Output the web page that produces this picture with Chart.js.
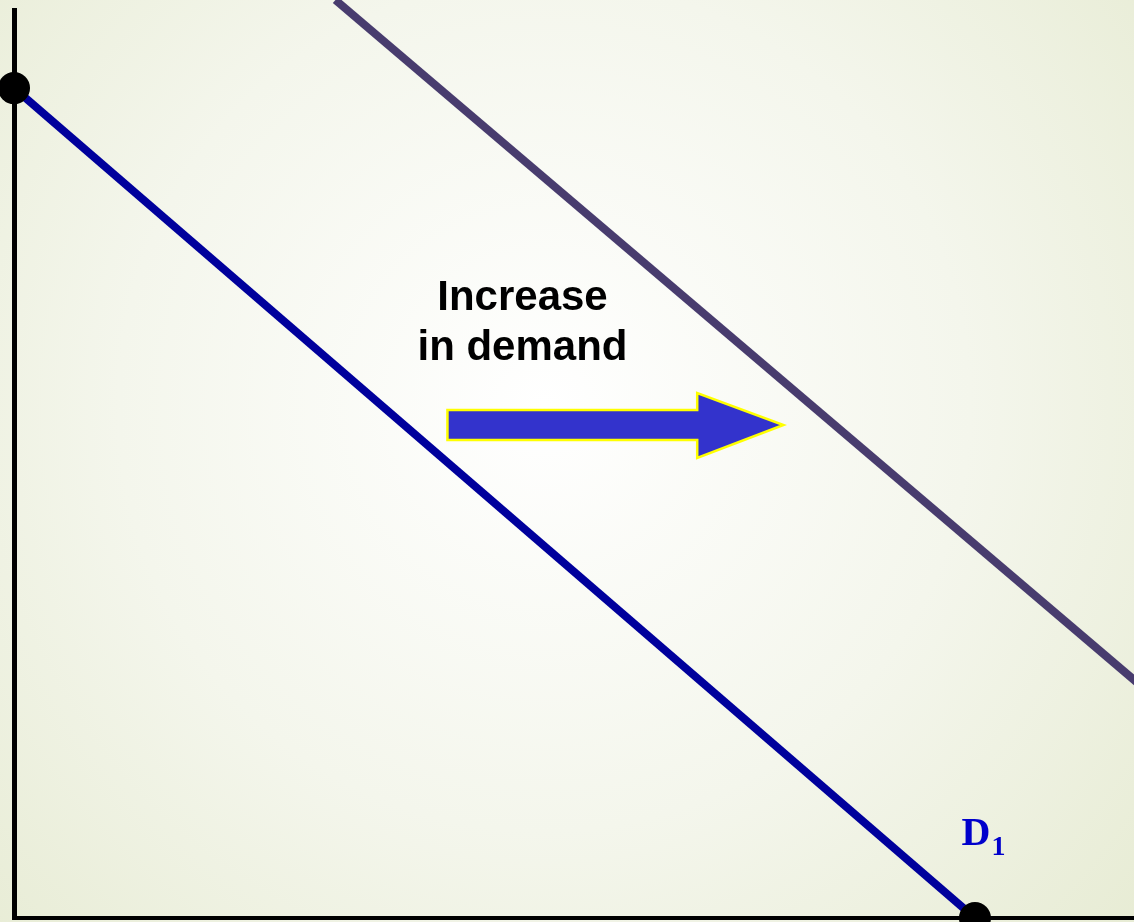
<!DOCTYPE html>
<html>
<head>
<meta charset="utf-8">
<script src="https://cdn.jsdelivr.net/npm/chart.js@4/dist/chart.umd.min.js"></script>
<style>
  html, body { margin: 0; padding: 0; background: #eef1e0; }
  #wrap { width: 1134px; height: 922px; position: relative; }
</style>
</head>
<body>
<div id="wrap"><canvas id="demandChart"></canvas></div>
<script>
// demand curves (quantity, price), both axes 0..100
const d1Quantity = [0, 85.8];
const d1Price = [91.4, 0];
const d2Quantity = [28.7, 100.5];
const d2Price = [101.1, 25.7];

// shift arrow: tail, shaft end, tip (quantity) at one price level
const arrowQuantity = [38.7, 61.0, 68.7];
const arrowPrice = 54.3;

const shiftText = ['Increase', 'in demand'];
const shiftTextAt = [45.4, 67.0];
const curveLabel = 'D';
const curveLabelSub = '1';
const curveLabelAt = [84.6, 8.0];

function toPoints(xs, ys) {
  return xs.map(function (x, i) { return { x: x, y: ys[i] }; });
}

const backdrop = {
  id: 'backdrop',
  beforeDraw: function (chart) {
    const c = chart.ctx;
    const w = chart.width, h = chart.height;
    c.save();
    const g = c.createRadialGradient(w * 0.48, h * 0.44, 0, w * 0.48, h * 0.44, w * 0.75);
    g.addColorStop(0, '#ffffff');
    g.addColorStop(0.5, '#f4f6ec');
    g.addColorStop(1, '#e5ead0');
    c.fillStyle = g;
    c.fillRect(0, 0, w, h);
    c.restore();
  }
};

const notes = {
  id: 'notes',
  afterDatasetsDraw: function (chart) {
    const c = chart.ctx;
    const xs = chart.scales.x, ys = chart.scales.y;
    c.save();

    // arrow
    const x0 = xs.getPixelForValue(arrowQuantity[0]);
    const x1 = xs.getPixelForValue(arrowQuantity[1]);
    const x2 = xs.getPixelForValue(arrowQuantity[2]);
    const yc = ys.getPixelForValue(arrowPrice);
    c.beginPath();
    c.moveTo(x0, yc - 15);
    c.lineTo(x1, yc - 15);
    c.lineTo(x1, yc - 32);
    c.lineTo(x2, yc);
    c.lineTo(x1, yc + 33);
    c.lineTo(x1, yc + 15);
    c.lineTo(x0, yc + 15);
    c.closePath();
    c.fillStyle = '#3333cc';
    c.fill();
    c.lineWidth = 2.5;
    c.lineJoin = 'miter';
    c.strokeStyle = '#ffff00';
    c.stroke();

    // shift text
    c.fillStyle = '#000000';
    c.font = 'bold 42px "Liberation Sans", Arial, sans-serif';
    c.textAlign = 'center';
    c.textBaseline = 'alphabetic';
    const tx = xs.getPixelForValue(shiftTextAt[0]);
    const ty = ys.getPixelForValue(shiftTextAt[1]);
    shiftText.forEach(function (t, i) { c.fillText(t, tx, ty + i * 50); });

    // curve label
    c.fillStyle = '#0000cc';
    c.textAlign = 'left';
    const lx = xs.getPixelForValue(curveLabelAt[0]);
    const ly = ys.getPixelForValue(curveLabelAt[1]);
    c.font = 'bold 40px "Liberation Serif", "Times New Roman", serif';
    c.fillText(curveLabel, lx, ly);
    const dw = c.measureText(curveLabel).width;
    c.font = 'bold 28px "Liberation Serif", "Times New Roman", serif';
    c.fillText(curveLabelSub, lx + dw + 1, ly + 10);

    c.restore();
  }
};

const ctx = document.getElementById('demandChart').getContext('2d');

const config = {
  type: 'scatter',
  data: {
    datasets: [
      {
        data: toPoints(d1Quantity, d1Price),
        showLine: true,
        borderColor: '#00009c',
        borderWidth: 8,
        pointRadius: 16,
        pointBackgroundColor: '#000000',
        pointBorderWidth: 0,
        clip: false,
        order: 1
      },
      {
        data: toPoints(d2Quantity, d2Price),
        showLine: true,
        borderColor: '#483c6e',
        borderWidth: 8,
        pointRadius: 0,
        clip: false,
        order: 2
      }
    ]
  },
  plugins: [backdrop, notes],
  options: {
    responsive: true,
    maintainAspectRatio: false,
    animation: false,
    layout: {
      autoPadding: false,
      padding: { top: 10, bottom: 4, left: 14, right: 0 }
    },
    plugins: {
      legend: { display: false },
      tooltip: { enabled: false }
    },
    scales: {
      x: {
        type: 'linear',
        min: 0,
        max: 100,
        afterFit: function (scale) { scale.height = 0; scale.paddingLeft = 0; scale.paddingRight = 0; },
        grid: { display: false, drawTicks: false },
        border: { display: true, color: '#000000', width: 4 },
        ticks: { display: false, padding: 0 }
      },
      y: {
        type: 'linear',
        min: 0,
        max: 100,
        afterFit: function (scale) { scale.width = 0; scale.paddingTop = 0; scale.paddingBottom = 0; },
        grid: { display: false, drawTicks: false },
        border: { display: true, color: '#000000', width: 5 },
        ticks: { display: false, padding: 0 }
      }
    }
  }
};

const demandChart = new Chart(ctx, config);
</script>
</body>
</html>
